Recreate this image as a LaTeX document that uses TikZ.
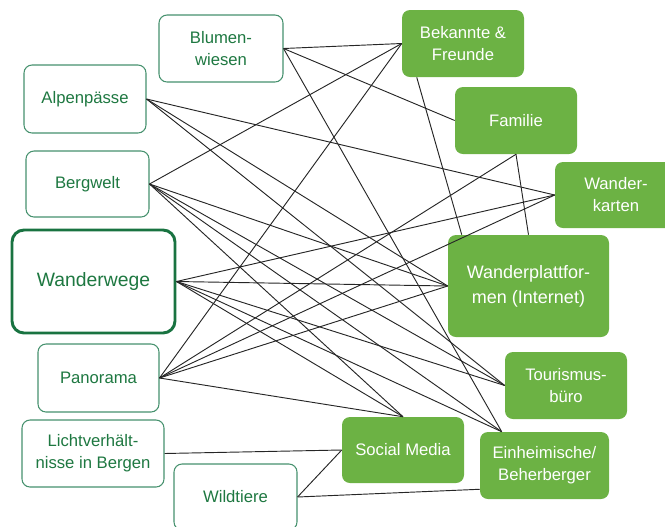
\documentclass[tikz,border=0pt]{standalone}
\usepackage{fontspec}
\setmainfont{Liberation Sans}
\usetikzlibrary{calc}
\definecolor{lineg}{RGB}{70,145,110}
\definecolor{textg}{RGB}{30,120,65}
\definecolor{darkg}{RGB}{25,115,65}
\definecolor{fillg}{RGB}{108,178,68}

\begin{document}
\begin{tikzpicture}[x=0.75pt,y=-0.75pt,
  sz/.style 2 args={minimum width=#1*0.75pt, minimum height=#2*0.75pt},
  lbox/.style={draw=lineg, line width=0.8pt, rounded corners=6pt, fill=white,
    text=textg, align=center, inner sep=0pt, font=\fontsize{12.5}{16.5}\selectfont},
  keybox/.style={lbox, draw=darkg, line width=2.2pt, rounded corners=9pt,
    font=\fontsize{14.5}{18}\selectfont},
  rbox/.style={fill=fillg, rounded corners=6pt, text=white, align=center,
    inner sep=0pt, font=\fontsize{12.5}{16.5}\selectfont},
  link/.style={draw=black!85, line width=0.7pt}]

\useasboundingbox (0,0) rectangle (665,526);

% topics (left)
\node[lbox, sz={124}{67}] (blu)   at (221,48.5)  {Blumen-\\wiesen};
\node[lbox, sz={122}{68}] (alp)   at (85,99)     {Alpenpässe};
\node[lbox, sz={123}{66}] (berg)  at (87.5,184)  {Bergwelt};
\node[keybox, sz={163}{103}] (ww) at (93.5,281.5) {Wanderwege};
\node[lbox, sz={121}{68}] (pan)   at (98.5,378)  {Panorama};
\node[lbox, sz={142}{67}] (licht) at (93,453.5)  {Lichtverhält-\\nisse in Bergen};
\node[lbox, sz={123}{66}] (wild)  at (235.5,497) {Wildtiere};

% sources (right)
\node[rbox, sz={122}{67}] (bek)  at (463,43.5)   {Bekannte \&\\Freunde};
\node[rbox, sz={122}{67}] (fam)  at (516,120.5)  {Familie};
\node[rbox, sz={122}{66}] (wk)   at (616,195)    {Wander-\\karten};
\node[rbox, sz={161}{102}, font=\fontsize{13.5}{18.75}\selectfont] (wp) at (528.5,286) {Wanderplattfor-\\men (Internet)};
\node[rbox, sz={122}{67}] (tour) at (566,385.5)  {Tourismus-\\büro};
\node[rbox, sz={122}{66}] (sm)   at (403,450)    {Social Media};
\node[rbox, sz={129}{67}] (ein)  at (544.5,465.5) {Einheimische/\\Beherberger};

% extra attachment points on the box borders
\coordinate (einT) at ($(ein.north west)+(22,0)$);
\coordinate (einL) at ($(ein.south west)+(0,-10)$);
\coordinate (bekB) at ($(bek.south west)+(15,0)$);
\coordinate (wpT)  at ($(wp.north west)+(14,0)$);

% connections
\draw[link] (blu.east) -- (bek.west);
\draw[link] (blu.east) -- (fam.west);
\draw[link] (blu.east) -- (einT);
\draw[link] (alp.east) -- (wk.west);
\draw[link] (alp.east) -- (wp.west);
\draw[link] (alp.east) -- (tour.west);
\draw[link] (berg.east) -- (bek.west);
\draw[link] (berg.east) -- (wp.west);
\draw[link] (berg.east) -- (tour.west);
\draw[link] (berg.east) -- (sm.north);
\draw[link] (berg.east) -- (einT);
\draw[link] (ww.east) -- (wk.west);
\draw[link] (ww.east) -- (wp.west);
\draw[link] (ww.east) -- (tour.west);
\draw[link] (ww.east) -- (einT);
\draw[link] (ww.east) -- (sm.north);
\draw[link] (pan.east) -- (bek.west);
\draw[link] (pan.east) -- (fam.south);
\draw[link] (pan.east) -- (wk.west);
\draw[link] (pan.east) -- (wp.west);
\draw[link] (pan.east) -- (sm.north);
\draw[link] (licht.east) -- (sm.west);
\draw[link] (wild.east) -- (sm.west);
\draw[link] (wild.east) -- (einL);
\draw[link] (bekB) -- (wpT);
\draw[link] (fam.south) -- (wp.north);
\end{tikzpicture}
\end{document}
